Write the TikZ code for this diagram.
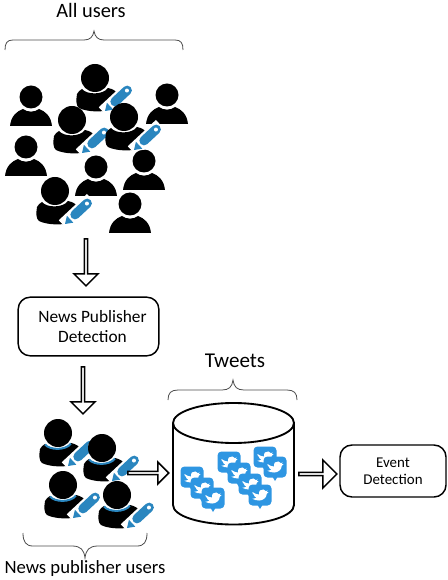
\documentclass[tikz,border=0pt]{standalone}
\usepackage{fontspec}
\setmainfont{Carlito}
\usetikzlibrary{shapes.arrows}
\definecolor{penblue}{HTML}{2A86BF}
\definecolor{twblue}{HTML}{2E96E2}
\tikzset{
  boxnode/.style={draw=black,line width=1.1pt,rounded corners=9pt,align=center,inner sep=0pt,font=\fontsize{13}{15}\selectfont},
  titlenode/.style={inner sep=0pt,font=\fontsize{14}{16}\selectfont},
  hollow/.style={draw=black,line width=1.1pt,fill=white,single arrow,minimum width=18pt,single arrow head extend=3.4pt,inner sep=0pt,single arrow tip angle=90},
  brc/.style={draw=black!70,line width=.6pt},
  plainp/.pic={
    \fill[black] (0,0) circle (11.5);
    \fill[black] (-21,29) .. controls (-20,19) and (-14,14) .. (-8,12) .. controls (-4,15.5) and (4,15.5) .. (8,12) .. controls (14,14) and (20,19) .. (21,29) -- cycle;
  },
  writerp/.pic={
    \fill[black] (0,0) circle (14);
    \fill[black] (-13,11) .. controls (-8,17) and (8,17) .. (13,10) .. controls (18,11) and (21,13) .. (24,17) -- (9,33) .. controls (0,34) and (-10,33) .. (-16,30) .. controls (-19,28) and (-19,22) .. (-18,16) .. controls (-17,14) and (-15,12) .. (-13,11) -- cycle;
    \begin{scope}[shift={(10,33)},rotate=43]
      \fill[white] (-2,-7) -- (8,-7) -- (36.5,-7) -- (36.5,7) -- (8,7) -- (-2,0) -- cycle;
      \fill[penblue] (0,0) -- (7,-4.7) -- (7,4.7) -- cycle;
      \fill[penblue,rounded corners=3.5pt] (9,-4.7) rectangle (35,4.7);
      \fill[white] (30,0) circle (2);
    \end{scope}
  },
  collarp/.pic={
    \draw[penblue,line width=1.5pt] (-13,11.5) .. controls (-8,17.5) and (8,17.5) .. (13,10.5);
  },
  tweetp/.pic={
    \fill[twblue] (-3,9) -- (0,14) -- (3,9) -- cycle;
    \fill[twblue,rounded corners=3pt] (-11.5,-10.5) rectangle (11.5,10.5);
    \begin{scope}[scale=.85,shift={(0,-.5)}]
    \fill[white] (-9,-3) .. controls (-6,-1) and (-3,0) .. (-1,0) .. controls (-2,-4) and (1,-7) .. (4,-6) .. controls (5,-6) and (6,-5) .. (7,-4) -- (9,-5) -- (8,-3) -- (10,-3) -- (8,-1) .. controls (8,4) and (3,7) .. (-1,7) .. controls (-4,7) and (-7,6) .. (-9,5) .. controls (-7,5) and (-5,4) .. (-4,3) .. controls (-6,3) and (-7,2) .. (-7,1) -- (-6,1) .. controls (-8,0) and (-9,-1) .. cycle;
    \end{scope}
  }
}
\begin{document}
\begin{tikzpicture}[x=0.75pt,y=-0.75pt]
\useasboundingbox (0,0) rectangle (448,580);

\node[titlenode,font=\fontsize{15.3}{17}\selectfont] (allt) at (91,10) {All users};
\coordinate (bt) at (94,31);
\draw[brc] (5,50) .. controls (5,43) and (7,40) .. (13,40) -- (84,40) .. controls (90,40) and (93,37) .. (bt) .. controls (95,37) and (98,40) .. (104,40) -- (175,40) .. controls (181,40) and (183,43) .. (183,50);

% all users
\pic at (31,97) {plainp};
\pic at (167,95) {plainp};
\pic at (26,147) {plainp};
\pic at (96,167) {plainp};
\pic at (95,78) {writerp};
\pic at (72,120) {writerp};
\pic at (144,161) {plainp};
\pic at (124,117) {writerp};
\pic at (130,204) {plainp};
\pic at (55,191) {writerp};

\node[hollow,shape border rotate=270,minimum height=35.25pt] (a1) at (86,261.5) {};
\node[boxnode,minimum width=105.5pt,minimum height=44pt] (det) at (88.5,326.5) {\hspace*{6pt}News Publisher\\\hspace*{6pt}Detection};
\node[hollow,shape border rotate=270,minimum height=35.25pt] (a2) at (83,389.5) {};

% news publishers
\foreach \x/\y in {58/433,102/448,63/485,117/495}{
  \pic at (\x,\y) {writerp};
  \pic at (\x,\y) {collarp};
}
\coordinate (bb) at (85,558);
\draw[brc] (23,533) .. controls (23,542) and (26,546) .. (33,546) -- (72,546) .. controls (81,546) and (84,550) .. (bb) .. controls (86,550) and (89,546) .. (98,546) -- (137,546) .. controls (144,546) and (147,542) .. (147,533);
\node[titlenode] (npt) at (85,569) {News publisher users};

\node[hollow,minimum height=30.75pt,minimum width=16.5pt] (a3) at (147.5,473) {};

% cylinder
\draw[line width=1.4pt,fill=white] (173,423) -- (173,505) .. controls (173,516) and (200,524.5) .. (233.5,524.5) .. controls (267,524.5) and (294,516) .. (294,505) -- (294,423);
\draw[line width=1.4pt,fill=white] (233.5,423) ellipse (60.5 and 20);
\node[titlenode,font=\fontsize{15.8}{17}\selectfont] (twt) at (235,361) {Tweets};
\coordinate (bc) at (233,380);
\draw[brc] (168,400) .. controls (168,393) and (171,390) .. (178,390) -- (222,390) .. controls (229,390) and (232,387) .. (bc) .. controls (234,387) and (237,390) .. (244,390) -- (287,390) .. controls (294,390) and (297,393) .. (297,400);

\foreach \x/\y in {192/477,202/488,213/498,229/462,239/473,250/484,260/495,265/457,275/467}{
  \pic at (\x,\y) {tweetp};
}

\node[hollow,minimum height=28.5pt,minimum width=21pt,single arrow head extend=4pt] (a4) at (317,474) {};
\node[boxnode,font=\fontsize{11.2}{13}\selectfont,minimum width=79.5pt,minimum height=39pt] (ev) at (393,471) {Event\\Detection};
\end{tikzpicture}
\end{document}
